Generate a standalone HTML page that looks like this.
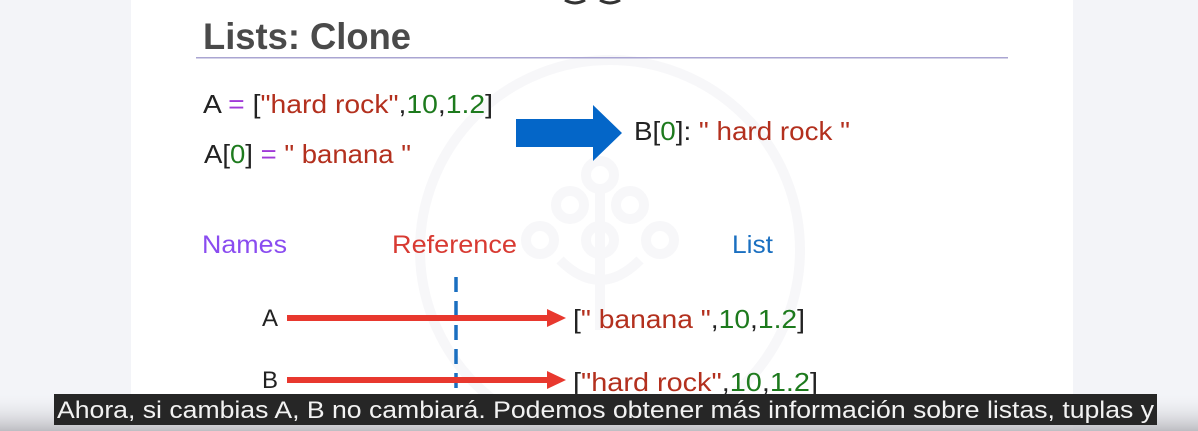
<!DOCTYPE html>
<html><head><meta charset="utf-8"><style>
html,body{margin:0;padding:0;width:1198px;height:431px;overflow:hidden;background:#f3f4f8;}
svg{display:block}
text{font-family:"Liberation Sans",sans-serif}
</style></head><body>
<svg width="1198" height="431" viewBox="0 0 1198 431">
<defs>
<linearGradient id="g" x1="0" y1="0" x2="0" y2="1">
<stop offset="0" stop-color="#f3f4f8" stop-opacity="0"/>
<stop offset="1" stop-color="#bdbdc2"/>
</linearGradient>
</defs>
<rect x="0" y="0" width="1198" height="431" fill="#f3f4f8"/>
<rect x="131" y="0" width="942" height="431" fill="#ffffff"/>
<g fill="none" stroke="#f7f7f9" stroke-width="10">
<circle cx="610" cy="250" r="190"/>
<circle cx="600" cy="175" r="14"/><circle cx="570" cy="205" r="14"/><circle cx="630" cy="205" r="14"/>
<circle cx="540" cy="240" r="14"/><circle cx="600" cy="240" r="14"/><circle cx="660" cy="240" r="14"/>
<path d="M600 190 V330 M560 260 Q600 300 640 260"/>
</g>
<path d="M565 0 q10 6 20 0 M600 0 q10 6 20 0" stroke="#333" stroke-width="3" fill="none"/>
<text x="203" y="49" font-size="37" font-weight="bold" fill="#4a4a4a" textLength="208" lengthAdjust="spacingAndGlyphs">Lists: Clone</text>
<rect x="196" y="57" width="812" height="1.5" fill="#aaa5d2"/>
<text x="203" y="113" font-size="26" fill="#222" textLength="290" lengthAdjust="spacingAndGlyphs">A <tspan fill="#a03ad8">=</tspan> [<tspan fill="#b3301e">"hard rock"</tspan>,<tspan fill="#1d7a1d">10</tspan>,<tspan fill="#1d7a1d">1.2</tspan>]</text>
<text x="204" y="163" font-size="26" fill="#222" textLength="207" lengthAdjust="spacingAndGlyphs">A[<tspan fill="#1d7a1d">0</tspan>] <tspan fill="#a03ad8">=</tspan> <tspan fill="#b3301e">" banana "</tspan></text>
<path d="M516 119 H593 V105 L622 133 L593 161 V147 H516 Z" fill="#0466c8"/>
<text x="634" y="140" font-size="26" fill="#222" textLength="216" lengthAdjust="spacingAndGlyphs">B[<tspan fill="#1d7a1d">0</tspan>]: <tspan fill="#b3301e">" hard rock "</tspan></text>
<text x="202" y="253" font-size="25" fill="#8a4cf0" textLength="85" lengthAdjust="spacingAndGlyphs">Names</text>
<text x="392" y="253" font-size="25" fill="#d83a32" textLength="125" lengthAdjust="spacingAndGlyphs">Reference</text>
<text x="732" y="253" font-size="25" fill="#1a6fc0" textLength="41" lengthAdjust="spacingAndGlyphs">List</text>
<line x1="456" y1="277" x2="456" y2="392" stroke="#1a6fc0" stroke-width="3.5" stroke-dasharray="15 9"/>
<text x="262" y="326" font-size="24" fill="#222">A</text>
<rect x="287" y="315" width="262" height="6" fill="#e8382e"/>
<path d="M547 309 L566 318 L547 327 Z" fill="#e8382e"/>
<text x="573" y="328" font-size="26" fill="#222" textLength="232" lengthAdjust="spacingAndGlyphs">[<tspan fill="#b3301e">" banana "</tspan>,<tspan fill="#1d7a1d">10</tspan>,<tspan fill="#1d7a1d">1.2</tspan>]</text>
<text x="262" y="388" font-size="24" fill="#222">B</text>
<rect x="287" y="377" width="262" height="6" fill="#e8382e"/>
<path d="M547 371 L566 380 L547 389 Z" fill="#e8382e"/>
<text x="573" y="391" font-size="26" fill="#222" textLength="245" lengthAdjust="spacingAndGlyphs">[<tspan fill="#b3301e">"hard rock"</tspan>,<tspan fill="#1d7a1d">10</tspan>,<tspan fill="#1d7a1d">1.2</tspan>]</text>
<rect x="0" y="392" width="1198" height="39" fill="url(#g)"/>
<rect x="54" y="394" width="1103" height="31" fill="#262626"/>
<text x="57" y="418" font-size="24" fill="#f2f2f2" textLength="1097" lengthAdjust="spacingAndGlyphs">Ahora, si cambias A, B no cambiará. Podemos obtener más información sobre listas, tuplas y</text>
</svg>
</body></html>
